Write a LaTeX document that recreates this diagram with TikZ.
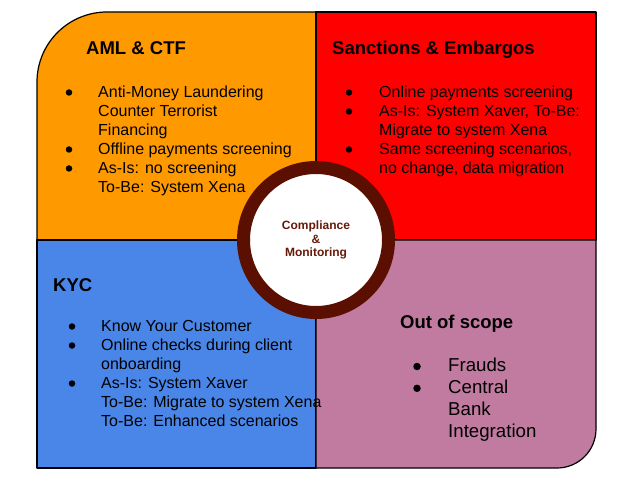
\documentclass[tikz,border=0pt]{standalone}
\usepackage{fontspec}
\setmainfont{Liberation Sans}
\definecolor{amlc}{HTML}{FF9900}
\definecolor{sanc}{HTML}{FF0000}
\definecolor{kycc}{HTML}{4A86E8}
\definecolor{oosc}{HTML}{C27BA0}
\definecolor{ringc}{HTML}{5B0F00}
\definecolor{ringtxt}{HTML}{661A0A}
\begin{document}
\begin{tikzpicture}[x=1pt,y=-1pt,
  quad/.style={draw=black,line width=1.2pt,line join=round},
  body/.style={anchor=base west,inner sep=0pt,font=\fontsize{16}{19}\selectfont},
  dot/.style={circle,fill=black,inner sep=0pt,minimum size=6.5pt},
  bigbody/.style={anchor=base west,inner sep=0pt,font=\fontsize{18.67}{22}\selectfont},
  bigdot/.style={circle,fill=black,inner sep=0pt,minimum size=7.5pt},
  ttl/.style={anchor=base west,inner sep=0pt,font=\fontsize{18.5}{22}\selectfont\bfseries}]
\useasboundingbox (0,0) rectangle (632,481);
\fill[white] (0,0) rectangle (632,481);
% quadrants
\path[quad,fill=amlc] (316,240) -- (37,240) [rounded corners=70pt] -- (37,12) [sharp corners] -- (316,12) -- cycle;
\path[quad,fill=sanc] (316,12) -- (596,12) -- (596,240) -- (316,240) -- cycle;
\path[quad,fill=kycc] (37,240) -- (316,240) -- (316,468) -- (37,468) -- cycle;
\path[quad,fill=oosc] (316,240) -- (596,240) [rounded corners=39pt] -- (596,468) [sharp corners] -- (316,468) -- cycle;
% AML & CTF
\node[ttl] (amlT) at (86,55) {AML \& CTF};
\node[dot] (amlb1) at (69,92.5) {};
\node[body] (aml1) at (98,97.5) {Anti-Money Laundering};
\node[body] (aml2) at (98,116.5) {Counter Terrorist};
\node[body] (aml3) at (98,135.5) {Financing};
\node[dot] (amlb2) at (69,149.5) {};
\node[body] (aml4) at (98,154.5) {Offline payments screening};
\node[dot] (amlb3) at (69,168.5) {};
\node[body] (aml5) at (98,173.5) {As-Is: no screening};
\node[body] (aml6) at (98,192.5) {To-Be: System Xena};
% Sanctions
\node[ttl] (sanT) at (332,55) {Sanctions \& Embargos};
\node[dot] (sanb1) at (349,92.5) {};
\node[body] (san1) at (379,97.5) {Online payments screening};
\node[dot] (sanb2) at (349,111.5) {};
\node[body] (san2) at (379,116.5) {As-Is: System Xaver, To-Be:};
\node[body] (san3) at (379,135.5) {Migrate to system Xena};
\node[dot] (sanb3) at (349,149.5) {};
\node[body] (san4) at (379,154.5) {Same screening scenarios,};
\node[body] (san5) at (379,173.5) {no change, data migration};
% KYC
\node[ttl] (kycT) at (53,291) {KYC};
\node[dot] (kycb1) at (72,326.5) {};
\node[body] (kyc1) at (101,331.5) {Know Your Customer};
\node[dot] (kycb2) at (72,345.5) {};
\node[body] (kyc2) at (101,350.5) {Online checks during client};
\node[body] (kyc3) at (101,369.5) {onboarding};
\node[dot] (kycb3) at (72,383.5) {};
\node[body] (kyc4) at (101,388.5) {As-Is: System Xaver};
\node[body] (kyc5) at (101,407.5) {To-Be: Migrate to system Xena};
\node[body] (kyc6) at (101,426.5) {To-Be: Enhanced scenarios};
% Out of scope
\node[ttl] (oosT) at (400,328) {Out of scope};
\node[bigdot] (oosb1) at (417,366.5) {};
\node[bigbody] (oos1) at (448,371.7) {Frauds};
\node[bigdot] (oosb2) at (417,388.3) {};
\node[bigbody] (oos2) at (448,393.5) {Central};
\node[bigbody] (oos3) at (448,415.3) {Bank};
\node[bigbody] (oos4) at (448,437.1) {Integration};
% centre
\node[circle,draw=ringc,line width=13pt,fill=white,minimum size=145pt,inner sep=0pt,
  align=center,text=ringtxt,font=\fontsize{12}{13.7}\selectfont\bfseries] (core) at (316,240)
  {Compliance\\\&\\Monitoring};
\end{tikzpicture}
\end{document}
